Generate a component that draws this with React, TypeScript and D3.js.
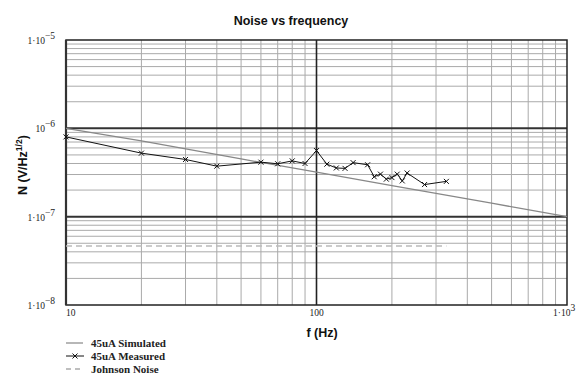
import React from "react";
import * as d3 from "d3";

const simFreq = [10, 20, 50, 100, 200, 500, 1000];
const simNoise = [1.0e-6, 0.72e-6, 0.45e-6, 0.32e-6, 0.225e-6, 0.142e-6, 0.1e-6];

const measFreq = [10, 20, 30, 40, 60, 70, 80, 90, 100, 110, 120, 130, 140, 160, 170, 180, 190, 200, 210, 220, 230, 270, 330];
const measNoise = [0.8e-6, 0.524e-6, 0.444e-6, 0.373e-6, 0.414e-6, 0.397e-6, 0.428e-6, 0.4e-6, 0.56e-6, 0.393e-6, 0.356e-6, 0.352e-6, 0.409e-6, 0.387e-6, 0.283e-6, 0.303e-6, 0.266e-6, 0.277e-6, 0.303e-6, 0.254e-6, 0.312e-6, 0.231e-6, 0.251e-6];

const johnsonFreq = [10, 330];
const johnsonNoise = [4.65e-8, 4.65e-8];

const yTicks = [1e-5, 1e-6, 1e-7, 1e-8];
const yTickLabels = [["1·10", "−5"], ["10", "−6"], ["1·10", "−7"], ["1·10", "−8"]];
const xTicks = [10, 100, 1000];
const xTickLabels = [["10", ""], ["100", ""], ["1·10", "3"]];

const legendItems = ["45uA Simulated", "45uA Measured", "Johnson Noise"];

export default function App() {
  const W = 579, H = 375;
  const x = d3.scaleLog().domain([10, 1000]).range([66, 567]);
  const y = d3.scaleLog().domain([1e-8, 1e-5]).range([305, 40]);

  const minorX: number[] = [];
  [10, 100].forEach((d) => { for (let k = 2; k <= 9; k++) minorX.push(d * k); });
  const minorY: number[] = [];
  [1e-8, 1e-7, 1e-6].forEach((d) => { for (let k = 2; k <= 9; k++) minorY.push(d * k); });

  const line = d3.line<[number, number]>().x((d) => x(d[0])).y((d) => y(d[1]));
  const sim = line(simFreq.map((f, i) => [f, simNoise[i]]));
  const meas = line(measFreq.map((f, i) => [f, measNoise[i]]));
  const john = line(johnsonFreq.map((f, i) => [f, johnsonNoise[i]]));

  const serif = "'Liberation Serif', 'DejaVu Serif', serif";
  const sans = "'Liberation Sans', Arial, sans-serif";

  const cross = (cx: number, cy: number, key: string, s = 2.5) => (
    <path key={key} d={`M${cx - s},${cy - s}L${cx + s},${cy + s}M${cx - s},${cy + s}L${cx + s},${cy - s}`} stroke="#111" strokeWidth={1} />
  );

  return (
    <svg width={W} height={H} style={{ position: "absolute", left: 0, top: 0, background: "#fff" }}>
      <rect width={W} height={H} fill="#fff" />
      <text x={291} y={25} textAnchor="middle" fontFamily={sans} fontWeight="bold" fontSize={12.5} fill="#111">Noise vs frequency</text>
      {minorX.map((f) => (
        <line key={"mx" + f} x1={x(f)} x2={x(f)} y1={40} y2={305} stroke="#aaa" strokeWidth={1} />
      ))}
      {minorY.map((v) => (
        <line key={"my" + v} x1={66} x2={567} y1={y(v)} y2={y(v)} stroke="#aaa" strokeWidth={1} />
      ))}
      <line x1={66} x2={567} y1={y(1e-6)} y2={y(1e-6)} stroke="#333" strokeWidth={2} />
      <line x1={66} x2={567} y1={y(1e-7)} y2={y(1e-7)} stroke="#333" strokeWidth={2} />
      <line x1={x(100)} x2={x(100)} y1={40} y2={305} stroke="#222" strokeWidth={1.6} />
      <rect x={66} y={40} width={501} height={265} fill="none" stroke="#222" strokeWidth={1.5} />
      <line x1={66} x2={66} y1={40} y2={305} stroke="#333" strokeWidth={2.2} />
      <path d={john || ""} fill="none" stroke="#bbb" strokeWidth={1.5} strokeDasharray="6,4" />
      <path d={sim || ""} fill="none" stroke="#888" strokeWidth={1.3} />
      <path d={meas || ""} fill="none" stroke="#111" strokeWidth={1} />
      {measFreq.map((f, i) => cross(x(f), y(measNoise[i]), "c" + i))}
      {yTicks.map((v, i) => (
        <text key={"yt" + i} x={55} y={y(v) + 4} textAnchor="end" fontFamily={serif} fontSize={9.5} fill="#222">
          {yTickLabels[i][0]}
          <tspan fontSize={9.5} dy={-5}>{yTickLabels[i][1]}</tspan>
        </text>
      ))}
      {xTicks.map((v, i) => (
        <text key={"xt" + i} x={i === 0 ? x(v) : i === 1 ? x(v) : x(v) - 14} y={316} textAnchor={i === 1 ? "middle" : "start"} fontFamily={serif} fontSize={9.5} fill="#222">
          {xTickLabels[i][0]}
          {xTickLabels[i][1] ? <tspan dy={-5}>{xTickLabels[i][1]}</tspan> : null}
        </text>
      ))}
      <text x={322} y={337} textAnchor="middle" fontFamily={sans} fontWeight="bold" fontSize={12.5} fill="#111">f (Hz)</text>
      <text transform="translate(27,165) rotate(-90)" textAnchor="middle" fontFamily={sans} fontWeight="bold" fontSize={12.5} fill="#111">
        N (V/Hz<tspan fontSize={8.5} dy={-5}>1/2</tspan><tspan dy={5}>)</tspan>
      </text>
      {legendItems.map((t, i) => {
        const ly = 343 + i * 13;
        return (
          <g key={"lg" + i}>
            {i === 0 && <line x1={66} x2={83} y1={ly} y2={ly} stroke="#888" strokeWidth={1.2} />}
            {i === 1 && (
              <g>
                <line x1={66} x2={84} y1={ly} y2={ly} stroke="#111" strokeWidth={1} />
                {cross(75, ly, "lgc")}
              </g>
            )}
            {i === 2 && <line x1={66} x2={84} y1={ly} y2={ly} stroke="#aaa" strokeWidth={1.3} strokeDasharray="5,4" />}
            <text x={91} y={ly + 4} fontFamily={serif} fontWeight="bold" fontSize={11} fill="#222">{t}</text>
          </g>
        );
      })}
    </svg>
  );
}
